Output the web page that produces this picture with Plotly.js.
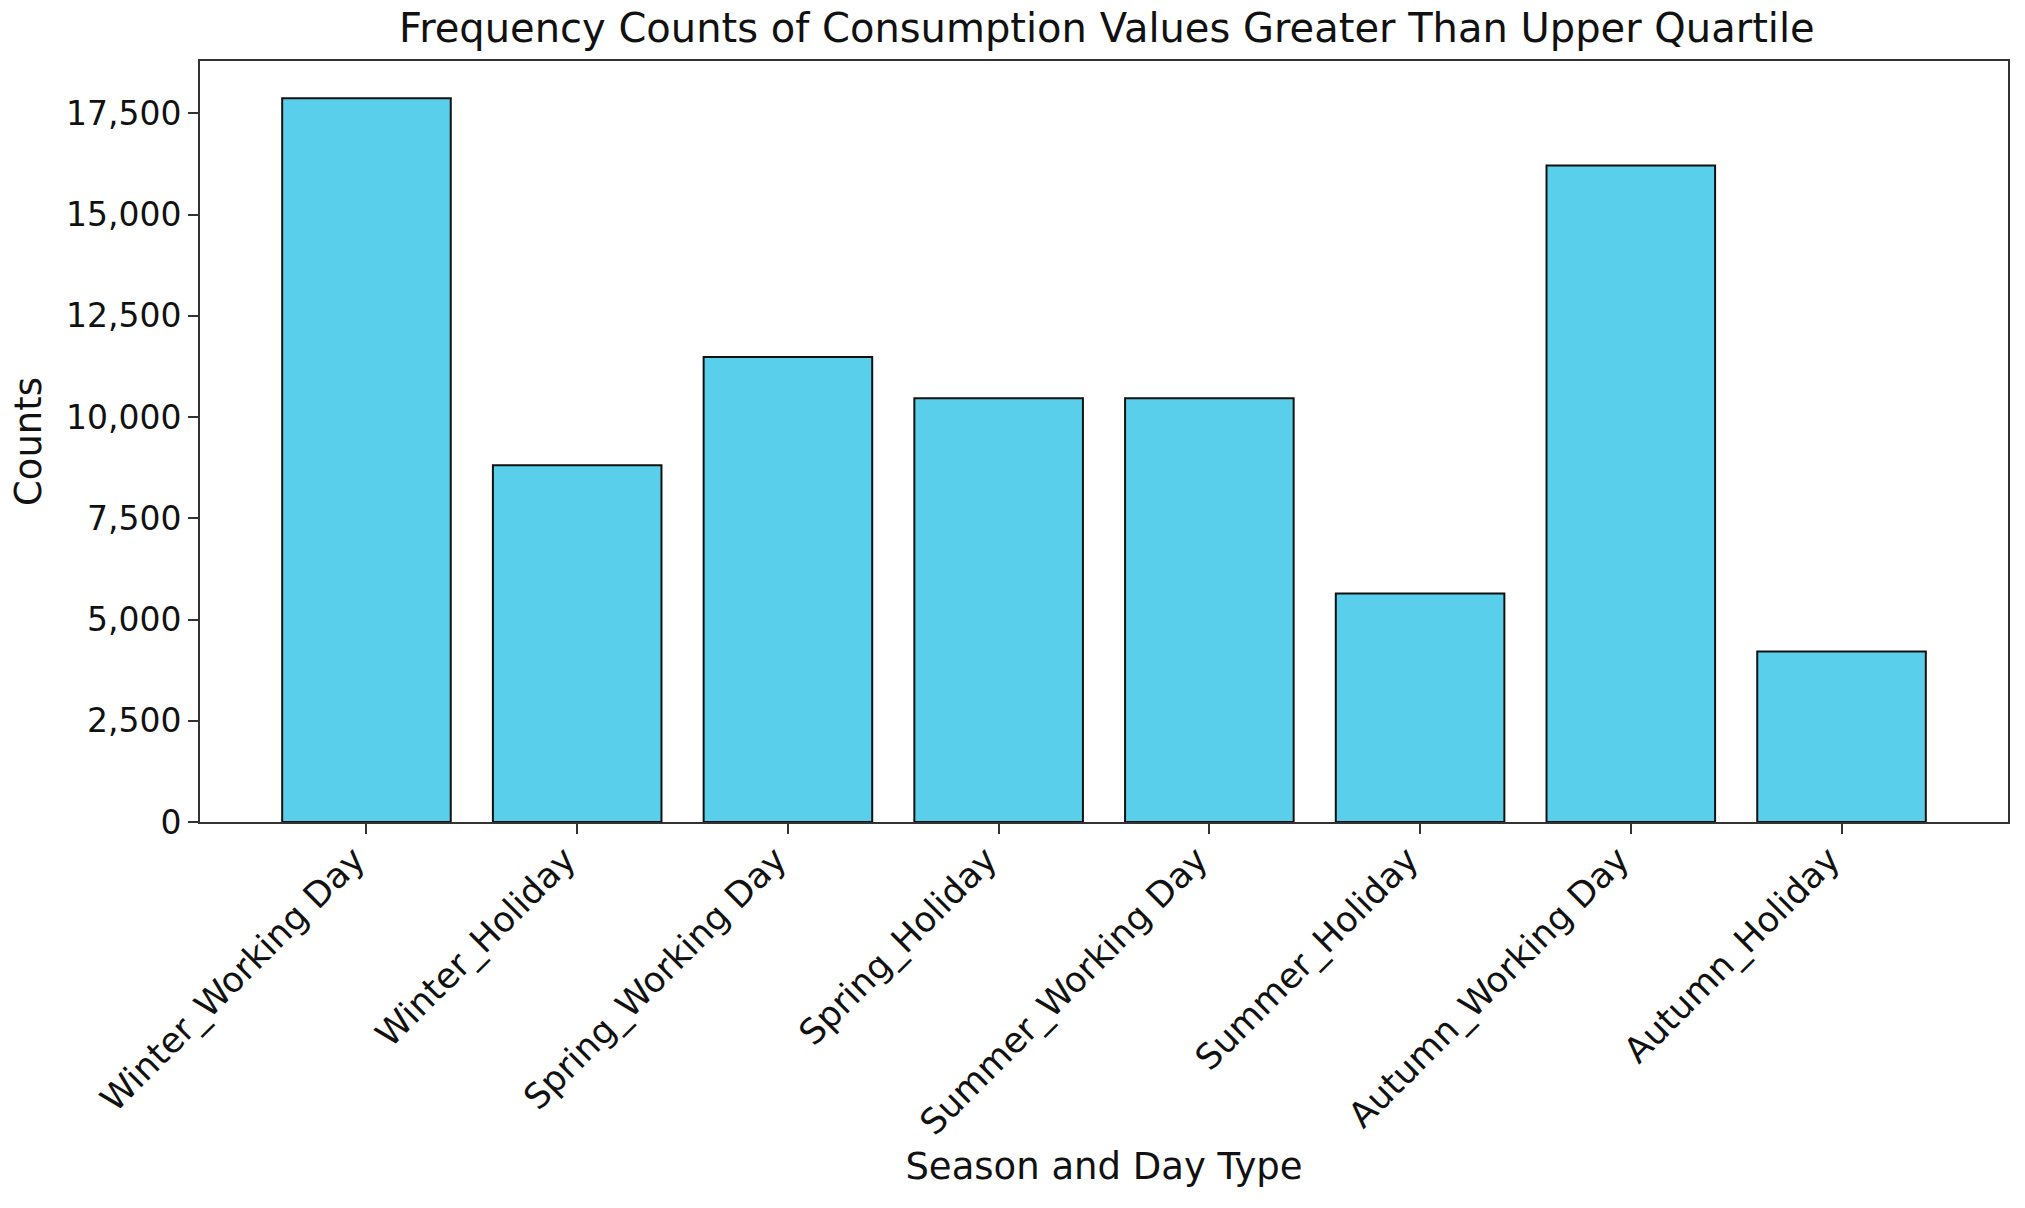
<!DOCTYPE html>
<html>
<head>
<meta charset="utf-8">
<script src="https://cdn.plot.ly/plotly-3.0.1.min.js"></script>
<style>html,body{margin:0;padding:0;background:#fff;}</style>
</head>
<body>
<div id="chart" style="width:2025px;height:1208px;"></div>
<script>
const categories = ["Winter_Working Day", "Winter_Holiday", "Spring_Working Day", "Spring_Holiday",
                    "Summer_Working Day", "Summer_Holiday", "Autumn_Working Day", "Autumn_Holiday"];
const counts = [17870, 8810, 11480, 10460, 10460, 5640, 16210, 4210];
const yTickVals = [0, 2500, 5000, 7500, 10000, 12500, 15000, 17500];

const font = "DejaVu Sans, sans-serif";
const trace = {
  type: "bar",
  x: categories,
  y: counts,
  width: 0.8,
  marker: {color: "#5ACFEC", line: {color: "#111111", width: 2}},
  hoverinfo: "x+y"
};
const layout = {
  width: 2025, height: 1208,
  paper_bgcolor: "#ffffff", plot_bgcolor: "#ffffff",
  margin: {l: 200, r: 17, t: 61, b: 386},
  font: {family: font, color: "#111111", size: 33},
  title: {text: "Frequency Counts of Consumption Values Greater Than Upper Quartile",
          font: {family: font, size: 40, color: "#111111"},
          x: 0.5466, xanchor: "center", y: 1 - 28/1208, yanchor: "middle", yref: "container"},
  xaxis: {
    type: "category", range: [-0.79, 7.79],
    showline: true, linecolor: "#333333", linewidth: 2, mirror: true,
    ticks: "outside", ticklen: 10, tickwidth: 2, tickcolor: "#333333",
    tickangle: -45, tickfont: {family: font, size: 35, color: "#111111"},
    ticklabelshift: -12, ticklabelstandoff: -9,
    showgrid: false, zeroline: false, automargin: false,
    title: {text: "Season and Day Type", font: {family: font, size: 37, color: "#111111"}, standoff: 12}
  },
  yaxis: {
    range: [0, 18790], tickvals: yTickVals, tickformat: ",",
    showline: true, linecolor: "#333333", linewidth: 2, mirror: true,
    ticks: "outside", ticklen: 10, tickwidth: 2, tickcolor: "#333333",
    tickfont: {family: font, size: 33, color: "#111111"},
    showgrid: false, zeroline: false, automargin: false,
    title: {text: "Counts", font: {family: font, size: 37, color: "#111111"}, standoff: 13}
  },
  bargap: 0.2,
  showlegend: false
};
Plotly.newPlot("chart", [trace], layout, {displayModeBar: false, staticPlot: true});
</script>
</body>
</html>
